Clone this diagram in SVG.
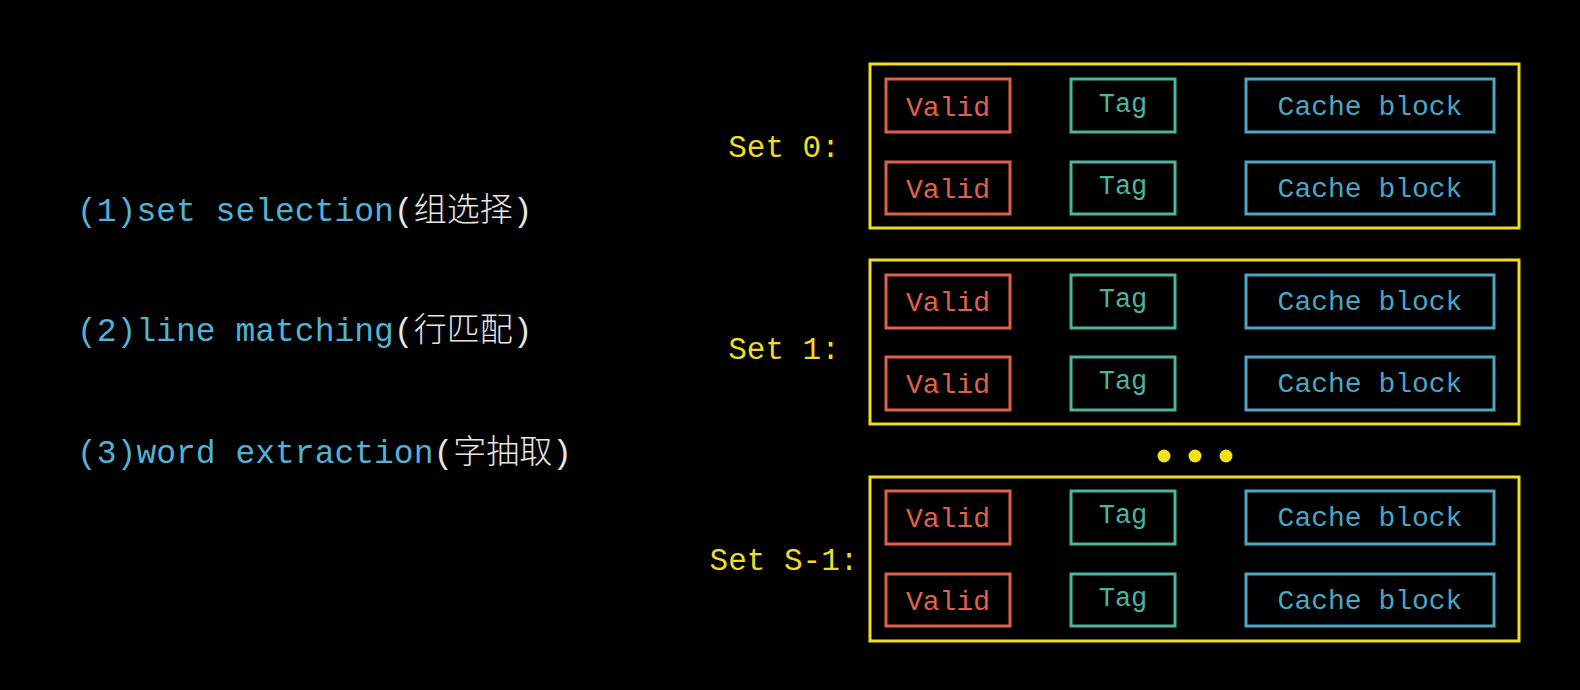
<svg xmlns="http://www.w3.org/2000/svg" width="1580" height="690" viewBox="0 0 1580 690">
<style>
text{font-family:"Liberation Mono","Noto Sans CJK SC",monospace}
.bg{fill:#000}
.set{fill:none;stroke:#eedd22;stroke-width:3}
.setlbl{fill:#eedd22;font-size:31px;text-anchor:middle}
.v{fill:none;stroke:#e0604c;stroke-width:3}
.vt{fill:#e0604c;font-size:28px;text-anchor:middle}
.t{fill:none;stroke:#4bb39e;stroke-width:3}
.tt{fill:#4bb39e;font-size:27px;text-anchor:middle}
.c{fill:none;stroke:#4aa6c4;stroke-width:3}
.ct{fill:#4aa6c4;font-size:28px;text-anchor:middle}
.step{fill:#52b2d4;font-size:33px}
.zh{fill:#e6e6e6;font-size:33px;font-weight:300}
.dot{fill:#f2e318}
</style>
<rect class="bg" x="0" y="0" width="1580" height="690"/>

<g id="steps">
<text x="77" y="221"><tspan class="step">(1)set selection</tspan><tspan class="zh">(组选择)</tspan></text>
<text x="77" y="341"><tspan class="step">(2)line matching</tspan><tspan class="zh">(行匹配)</tspan></text>
<text x="77" y="463"><tspan class="step">(3)word extraction</tspan><tspan class="zh">(字抽取)</tspan></text>
</g>

<g id="set0">
<text class="setlbl" x="784" y="157">Set 0:</text>
<rect class="set" x="870" y="64" width="649" height="164"/>
<rect class="v" x="886" y="79" width="124" height="53"/><text class="vt" x="948" y="116">Valid</text>
<rect class="t" x="1071" y="79" width="104" height="53"/><text class="tt" x="1123" y="112">Tag</text>
<rect class="c" x="1246" y="79" width="248" height="53"/><text class="ct" x="1370" y="115">Cache block</text>
<rect class="v" x="886" y="162" width="124" height="52"/><text class="vt" x="948" y="198">Valid</text>
<rect class="t" x="1071" y="162" width="104" height="52"/><text class="tt" x="1123" y="194">Tag</text>
<rect class="c" x="1246" y="162" width="248" height="52"/><text class="ct" x="1370" y="197">Cache block</text>
</g>

<g id="set1">
<text class="setlbl" x="784" y="359">Set 1:</text>
<rect class="set" x="870" y="260" width="649" height="164"/>
<rect class="v" x="886" y="275" width="124" height="53"/><text class="vt" x="948" y="311">Valid</text>
<rect class="t" x="1071" y="275" width="104" height="53"/><text class="tt" x="1123" y="307">Tag</text>
<rect class="c" x="1246" y="275" width="248" height="53"/><text class="ct" x="1370" y="310">Cache block</text>
<rect class="v" x="886" y="357" width="124" height="53"/><text class="vt" x="948" y="393">Valid</text>
<rect class="t" x="1071" y="357" width="104" height="53"/><text class="tt" x="1123" y="389">Tag</text>
<rect class="c" x="1246" y="357" width="248" height="53"/><text class="ct" x="1370" y="392">Cache block</text>
</g>

<g id="ellipsis">
<circle class="dot" cx="1164" cy="456" r="6.5"/>
<circle class="dot" cx="1195" cy="456" r="6.5"/>
<circle class="dot" cx="1226" cy="456" r="6.5"/>
</g>

<g id="setS1">
<text class="setlbl" x="784" y="570">Set S-1:</text>
<rect class="set" x="870" y="477" width="649" height="164"/>
<rect class="v" x="886" y="491" width="124" height="53"/><text class="vt" x="948" y="527">Valid</text>
<rect class="t" x="1071" y="491" width="104" height="53"/><text class="tt" x="1123" y="523">Tag</text>
<rect class="c" x="1246" y="491" width="248" height="53"/><text class="ct" x="1370" y="526">Cache block</text>
<rect class="v" x="886" y="574" width="124" height="52"/><text class="vt" x="948" y="610">Valid</text>
<rect class="t" x="1071" y="574" width="104" height="52"/><text class="tt" x="1123" y="606">Tag</text>
<rect class="c" x="1246" y="574" width="248" height="52"/><text class="ct" x="1370" y="609">Cache block</text>
</g>

<g id="connectors"></g>
</svg>
